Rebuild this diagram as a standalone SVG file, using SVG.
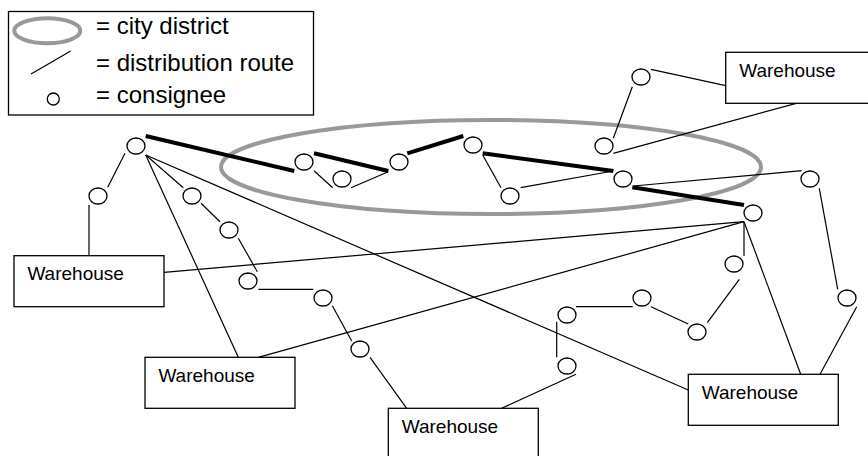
<svg xmlns="http://www.w3.org/2000/svg" width="868" height="456" viewBox="0 0 868 456">
  <style>
    .route { stroke: #000; stroke-width: 1.2; fill: none; stroke-linecap: butt; }
    .main { stroke: #000; stroke-width: 4; fill: none; }
    .stop { fill: #fff; stroke: #000; stroke-width: 1.3; }
    .depot rect { fill: #fff; stroke: #000; stroke-width: 1.3; }
    .depot text, .legend text { font-family: "Liberation Sans", Arial, sans-serif; fill: #000; }
    .depot text { font-size: 19px; }
    .legend text { font-size: 24px; }
    .district { fill: none; stroke: #999; stroke-width: 4; }
  </style>
  <rect width="868" height="456" fill="#fff"/>

  <!-- legend -->
  <g id="legend" class="legend">
    <rect x="8.5" y="11.5" width="305" height="103.5" fill="#fff" stroke="#000" stroke-width="1.3"/>
    <ellipse class="district" cx="47.3" cy="30.7" rx="33" ry="12.5"/>
    <line class="route" x1="31" y1="74" x2="70.7" y2="51"/>
    <circle class="stop" cx="53.3" cy="99" r="6"/>
    <text x="96" y="34">= city district</text>
    <text x="96" y="70.5">= distribution route</text>
    <text x="96" y="102.5">= consignee</text>
  </g>

  <!-- city district -->
  <g id="district">
    <ellipse class="district" cx="491" cy="167" rx="270" ry="47"/>
  </g>

  <!-- distribution routes -->
  <g id="connectors">
    <line class="main" x1="145.7" y1="136" x2="294.3" y2="171"/>
    <line class="main" x1="314" y1="153.3" x2="388.3" y2="171"/>
    <line class="main" x1="407.3" y1="153.3" x2="463.3" y2="136"/>
    <line class="main" x1="482.7" y1="153.3" x2="613.3" y2="171"/>
    <line class="main" x1="632.3" y1="187.3" x2="744" y2="205"/>

    <line class="route" x1="314" y1="170.7" x2="332.7" y2="187.7"/>
    <line class="route" x1="351" y1="187.7" x2="388.3" y2="171.7"/>
    <line class="route" x1="482.7" y1="155" x2="501" y2="187.7"/>
    <line class="route" x1="520.7" y1="187.7" x2="613.3" y2="171"/>
    <line class="route" x1="633.3" y1="186" x2="801.7" y2="170.7"/>
    <line class="route" x1="613.3" y1="138.3" x2="632.3" y2="86.7"/>
    <line class="route" x1="651" y1="69.3" x2="725.7" y2="85.7"/>
    <line class="route" x1="613.3" y1="153.3" x2="800" y2="102.3"/>

    <line class="route" x1="125" y1="153.3" x2="107.7" y2="187.3"/>
    <line class="route" x1="89" y1="205" x2="89" y2="255.7"/>
    <line class="route" x1="145.7" y1="155" x2="183.3" y2="187.7"/>
    <line class="route" x1="201" y1="203.3" x2="220" y2="221.7"/>
    <line class="route" x1="238.3" y1="238.3" x2="257.3" y2="271.7"/>
    <line class="route" x1="258.3" y1="289.3" x2="313.3" y2="289.3"/>
    <line class="route" x1="332.3" y1="305.7" x2="351.7" y2="341"/>
    <line class="route" x1="370" y1="357.3" x2="406.7" y2="408.3"/>
    <line class="route" x1="145.7" y1="155" x2="238.3" y2="357.3"/>
    <line class="route" x1="145.7" y1="155" x2="688.3" y2="390"/>

    <line class="route" x1="501.7" y1="408.3" x2="576" y2="374.3"/>
    <line class="route" x1="556.7" y1="357.3" x2="556.7" y2="321.7"/>
    <line class="route" x1="576" y1="306.7" x2="632.7" y2="306.7"/>
    <line class="route" x1="651" y1="306.7" x2="688.3" y2="324"/>
    <line class="route" x1="707.3" y1="322.7" x2="739.3" y2="279.3"/>
    <line class="route" x1="744" y1="256" x2="744" y2="221.7"/>
    <line class="route" x1="744" y1="221.7" x2="800.7" y2="374.3"/>
    <line class="route" x1="744" y1="221.7" x2="164" y2="272.3"/>
    <line class="route" x1="744" y1="221.7" x2="258.3" y2="357.3"/>
    <line class="route" x1="819.3" y1="188.3" x2="837.7" y2="289.3"/>
    <line class="route" x1="856.7" y1="306.7" x2="820" y2="374.3"/>
  </g>

  <!-- consignees -->
  <g id="stop-a"><ellipse class="stop" cx="136" cy="146" rx="9" ry="8"/></g>
  <g id="stop-b"><ellipse class="stop" cx="304" cy="162" rx="9" ry="8"/></g>
  <g id="stop-c"><ellipse class="stop" cx="342" cy="179" rx="9" ry="8"/></g>
  <g id="stop-d"><ellipse class="stop" cx="399" cy="162" rx="9" ry="8"/></g>
  <g id="stop-e"><ellipse class="stop" cx="473" cy="145" rx="9" ry="8"/></g>
  <g id="stop-f"><ellipse class="stop" cx="510" cy="196" rx="9" ry="8"/></g>
  <g id="stop-g"><ellipse class="stop" cx="604" cy="146" rx="9" ry="8"/></g>
  <g id="stop-h"><ellipse class="stop" cx="623" cy="179" rx="9" ry="8"/></g>
  <g id="stop-i"><ellipse class="stop" cx="641" cy="77" rx="9" ry="8"/></g>
  <g id="stop-j"><ellipse class="stop" cx="753" cy="213" rx="9" ry="8"/></g>
  <g id="stop-k"><ellipse class="stop" cx="810" cy="179" rx="9" ry="8"/></g>
  <g id="stop-l"><ellipse class="stop" cx="847" cy="298" rx="9" ry="8"/></g>
  <g id="stop-m"><ellipse class="stop" cx="734" cy="264" rx="9" ry="8"/></g>
  <g id="stop-n"><ellipse class="stop" cx="642" cy="298" rx="9" ry="8"/></g>
  <g id="stop-o"><ellipse class="stop" cx="567" cy="315" rx="9" ry="8"/></g>
  <g id="stop-p"><ellipse class="stop" cx="697" cy="332" rx="9" ry="8"/></g>
  <g id="stop-q"><ellipse class="stop" cx="567" cy="366" rx="9" ry="8"/></g>
  <g id="stop-r"><ellipse class="stop" cx="98" cy="196" rx="9" ry="8"/></g>
  <g id="stop-s"><ellipse class="stop" cx="192" cy="196" rx="9" ry="8"/></g>
  <g id="stop-t"><ellipse class="stop" cx="229" cy="230" rx="9" ry="8"/></g>
  <g id="stop-u"><ellipse class="stop" cx="248" cy="281" rx="9" ry="8"/></g>
  <g id="stop-v"><ellipse class="stop" cx="323" cy="298" rx="9" ry="8"/></g>
  <g id="stop-w"><ellipse class="stop" cx="360" cy="349" rx="9" ry="8"/></g>

  <!-- warehouses -->
  <g id="warehouse-ne" class="depot">
    <rect x="725.7" y="52.3" width="150" height="51"/>
    <text x="739.2" y="77">Warehouse</text>
  </g>
  <g id="warehouse-w" class="depot">
    <rect x="14" y="255.7" width="150" height="51"/>
    <text x="27.4" y="280.4">Warehouse</text>
  </g>
  <g id="warehouse-sw" class="depot">
    <rect x="145" y="357.3" width="150" height="51"/>
    <text x="158.4" y="382.2">Warehouse</text>
  </g>
  <g id="warehouse-s" class="depot">
    <rect x="388.3" y="408.3" width="150" height="51"/>
    <text x="401.7" y="433.2">Warehouse</text>
  </g>
  <g id="warehouse-se" class="depot">
    <rect x="688.3" y="374.3" width="150" height="51"/>
    <text x="701.7" y="399.2">Warehouse</text>
  </g>
</svg>
